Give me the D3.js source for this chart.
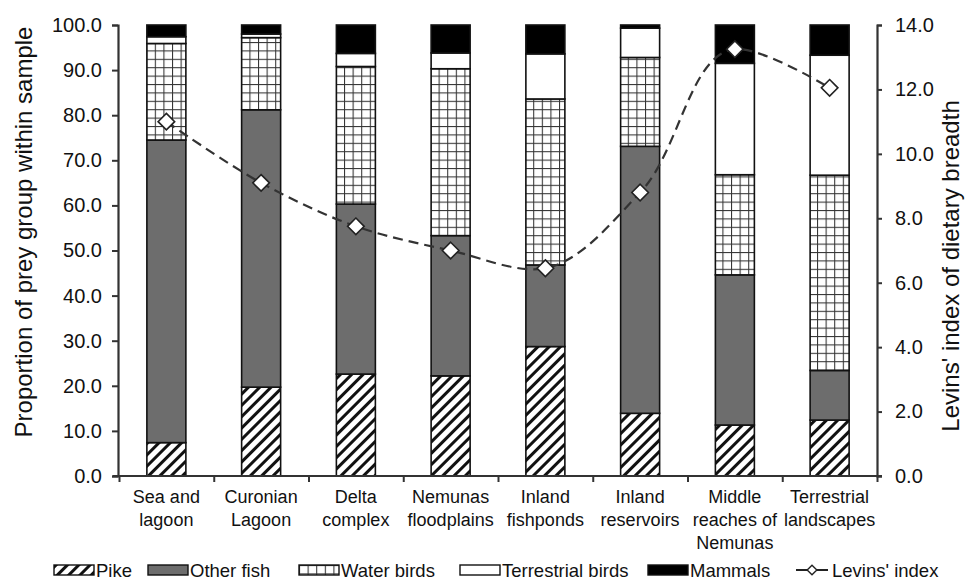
<!DOCTYPE html>
<html>
<head>
<meta charset="utf-8">
<script src="https://cdn.jsdelivr.net/npm/d3@7"></script>
<style>
  body { margin: 0; background: #fff; }
  svg { font-family: "Liberation Sans", Arial, sans-serif; }
</style>
</head>
<body>
<svg id="chart" width="967" height="588"></svg>
<script>
// categories (habitats)
var habitats = [
    ["Sea and", "lagoon"],
    ["Curonian", "Lagoon"],
    ["Delta", "complex"],
    ["Nemunas", "floodplains"],
    ["Inland", "fishponds"],
    ["Inland", "reservoirs"],
    ["Middle", "reaches of", "Nemunas"],
    ["Terrestrial", "landscapes"]
];
// prey group proportions (%), bottom to top
var pike        = [7.4, 19.7, 22.6, 22.2, 28.7, 13.9, 11.3, 12.4];
var otherFish   = [67.1, 61.5, 37.7, 31.1, 18.1, 59.2, 33.3, 11.0];
var waterBirds  = [21.4, 16.0, 30.5, 37.0, 36.8, 19.7, 22.2, 43.3];
var terrBirds   = [1.5, 0.8, 2.9, 3.5, 10.0, 6.5, 24.7, 26.6];
var mammals     = [2.6, 2.0, 6.3, 6.2, 6.4, 0.7, 8.5, 6.7];
// Levins' index of dietary breadth
var levins      = [11.0, 9.1, 7.75, 7.0, 6.45, 8.8, 13.25, 12.05];

var groupNames = ["Pike", "Other fish", "Water birds", "Terrestrial birds", "Mammals"];
var leftTicks  = [0, 10, 20, 30, 40, 50, 60, 70, 80, 90, 100];
var rightTicks = [0, 2, 4, 6, 8, 10, 12, 14];

var svg = d3.select("#chart");
var defs = svg.append("defs");

// hatch for pike
var hatch = defs.append("pattern")
    .attr("id", "hatch")
    .attr("patternUnits", "userSpaceOnUse")
    .attr("width", 8).attr("height", 8)
    .attr("patternTransform", "rotate(45)");
hatch.append("rect").attr("width", 8).attr("height", 8).attr("fill", "#fff");
hatch.append("rect").attr("x", 0).attr("width", 3).attr("height", 8).attr("fill", "#111");

// grid for water birds
var grid = defs.append("pattern")
    .attr("id", "grid")
    .attr("patternUnits", "userSpaceOnUse")
    .attr("width", 8.6).attr("height", 8.4);
grid.append("rect").attr("width", 8.6).attr("height", 8.4).attr("fill", "#fff");
grid.append("line").attr("x1", 0.5).attr("x2", 0.5).attr("y1", 0).attr("y2", 8.4)
    .attr("stroke", "#333").attr("stroke-width", 1.1);
grid.append("line").attr("x1", 0).attr("x2", 8.6).attr("y1", 0.5).attr("y2", 0.5)
    .attr("stroke", "#333").attr("stroke-width", 1.1);

var fills = ["url(#hatch)", "#6d6d6d", "url(#grid)", "#ffffff", "#000000"];

var x0 = 119, x1 = 877, yTop = 25, yBot = 476;

var x = d3.scaleBand().domain(d3.range(habitats.length)).range([x0, x1]);
var xb = d3.scaleLinear().domain([0, habitats.length]).range([x0, x1]);
var y = d3.scaleLinear().domain([0, 100]).range([yBot, yTop]);
var y2 = d3.scaleLinear().domain([0, 14]).range([yBot, yTop]);

var barW = 39;

// stacked data
var rows = habitats.map(function (h, i) {
    return { i: i, Pike: pike[i], "Other fish": otherFish[i], "Water birds": waterBirds[i],
        "Terrestrial birds": terrBirds[i], Mammals: mammals[i] };
});
var stack = d3.stack().keys(groupNames)(rows);

var layers = svg.append("g").selectAll("g")
    .data(stack)
    .enter().append("g")
    .attr("fill", function (d, k) { return fills[k]; });

layers.selectAll("rect")
    .data(function (d) { return d; })
    .enter().append("rect")
    .attr("x", function (d) { return x(d.data.i) + (x.bandwidth() - barW) / 2; })
    .attr("width", barW)
    .attr("y", function (d) { return y(d[1]); })
    .attr("height", function (d) { return y(d[0]) - y(d[1]); })
    .attr("stroke", "#111")
    .attr("stroke-width", 1.6);

// axes
var axisColor = "#333";
var leftAxis = svg.append("g")
    .attr("transform", "translate(" + (x0 - 1) + ",0)")
    .call(d3.axisLeft(y).tickValues(leftTicks).tickFormat(d3.format(".1f")).tickSize(6).tickPadding(10));
var rightAxis = svg.append("g")
    .attr("transform", "translate(" + x1 + ",0)")
    .call(d3.axisRight(y2).tickValues(rightTicks).tickFormat(d3.format(".1f")).tickSize(5).tickPadding(13));
var bottomAxis = svg.append("g")
    .attr("transform", "translate(0," + yBot + ")")
    .call(d3.axisBottom(xb).tickValues(d3.range(habitats.length + 1)).tickFormat("").tickSize(6).tickSizeOuter(0));

[leftAxis, rightAxis, bottomAxis].forEach(function (a) {
    a.select(".domain").attr("stroke", axisColor).attr("stroke-width", 2.2);
    a.selectAll(".tick line").attr("stroke", axisColor).attr("stroke-width", 2);
    a.selectAll(".tick text").attr("fill", "#111").style("font-size", "20px")
        .style("font-family", "'Liberation Sans', Arial, sans-serif");
});
bottomAxis.select(".domain").attr("d", "M" + (x0 - 6) + ",0H" + (x1 + 5));

// category labels
var catLabels = svg.append("g")
    .style("font-size", "18px")
    .attr("fill", "#111")
    .attr("text-anchor", "middle");
catLabels.selectAll("text")
    .data(habitats)
    .enter().append("text")
    .attr("x", function (d, i) { return x(i) + x.bandwidth() / 2; })
    .attr("y", 503)
    .each(function (d) {
        var t = d3.select(this);
        d.forEach(function (line, j) {
            t.append("tspan")
                .attr("x", t.attr("x"))
                .attr("dy", j === 0 ? 0 : 23)
                .text(line);
        });
    });

// Levins' index line
var line = d3.line()
    .x(function (d, i) { return x(i) + x.bandwidth() / 2; })
    .y(function (d) { return y2(d); })
    .curve(d3.curveCatmullRom.alpha(1));

svg.append("path")
    .datum(levins)
    .attr("d", line)
    .attr("fill", "none")
    .attr("stroke", "#333")
    .attr("stroke-width", 2.2)
    .attr("stroke-dasharray", "10,6");

var diamond = d3.symbol().type(d3.symbolDiamond2).size(175);
svg.append("g").selectAll("path")
    .data(levins)
    .enter().append("path")
    .attr("transform", function (d, i) { return "translate(" + (x(i) + x.bandwidth() / 2) + "," + y2(d) + ")"; })
    .attr("d", diamond)
    .attr("fill", "#fff")
    .attr("stroke", "#222")
    .attr("stroke-width", 1.6);

// axis titles
svg.append("text")
    .attr("transform", "translate(32,232) rotate(-90)")
    .attr("text-anchor", "middle")
    .style("font-size", "24px")
    .attr("fill", "#111")
    .text("Proportion of prey group within sample");

svg.append("text")
    .attr("transform", "translate(959,266) rotate(-90)")
    .attr("text-anchor", "middle")
    .style("font-size", "24px")
    .attr("fill", "#111")
    .text("Levins' index of dietary breadth");

// legend
var legendX = [54, 148, 299, 460, 648];
var legend = svg.append("g").style("font-size", "18.5px").attr("fill", "#111");
var items = legend.selectAll("g")
    .data(groupNames)
    .enter().append("g")
    .attr("transform", function (d, i) { return "translate(" + legendX[i] + ",565)"; });
items.append("rect")
    .attr("width", 40).attr("height", 10)
    .attr("fill", function (d, i) { return fills[i]; })
    .attr("stroke", "#111").attr("stroke-width", 1.4);
items.append("text")
    .attr("x", 42).attr("y", 12)
    .text(function (d) { return d; });

var lev = legend.append("g").attr("transform", "translate(796,570)");
lev.append("line").attr("x1", 0).attr("x2", 32).attr("stroke", "#222").attr("stroke-width", 2);
lev.append("path").attr("transform", "translate(16,0)")
    .attr("d", d3.symbol().type(d3.symbolDiamond2).size(60))
    .attr("fill", "#fff").attr("stroke", "#222").attr("stroke-width", 1.4);
lev.append("text").attr("x", 36).attr("y", 7).text("Levins' index");
</script>
</body>
</html>
